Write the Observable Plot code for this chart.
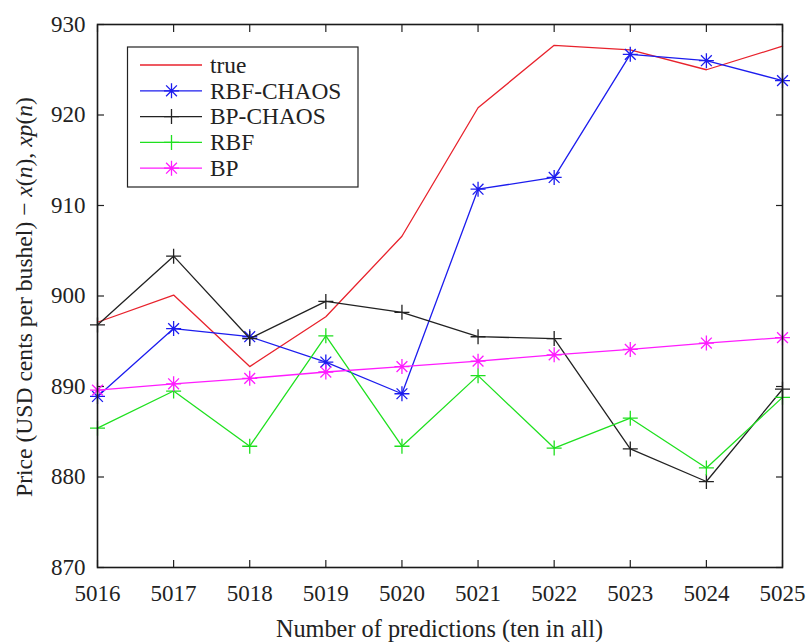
<!DOCTYPE html>
<html>
<head>
<meta charset="utf-8">
<script src="https://cdn.jsdelivr.net/npm/d3@7"></script>
<script src="https://cdn.jsdelivr.net/npm/@observablehq/plot@0.6"></script>
<style>
  html, body { margin: 0; padding: 0; background: white; }
  #chart { width: 806px; height: 642px; }
</style>
</head>
<body>
<div id="chart"></div>
<script>
// ---- data ----
const predictions = [5016, 5017, 5018, 5019, 5020, 5021, 5022, 5023, 5024, 5025];
const trueValues = [897.1, 900.1, 892.2, 897.7, 906.6, 920.8, 927.7, 927.2, 925.0, 927.6];
const rbfChaos   = [888.9, 896.4, 895.5, 892.7, 889.2, 911.8, 913.1, 926.7, 926.0, 923.8];
const bpChaos    = [896.8, 904.4, 895.3, 899.4, 898.2, 895.5, 895.3, 883.1, 879.5, 889.7];
const rbf        = [885.4, 889.5, 883.4, 895.6, 883.4, 891.2, 883.2, 886.5, 881.0, 888.8];
const bp         = [889.6, 890.3, 890.9, 891.6, 892.2, 892.8, 893.5, 894.1, 894.8, 895.4];
const seriesNames = ["true", "RBF-CHAOS", "BP-CHAOS", "RBF", "BP"];
const seriesValues = [trueValues, rbfChaos, bpChaos, rbf, bp];
const seriesMarkers = [null, "star", "plus", "plus", "star"];
const seriesColors = ["#e8222c", "#1c1cee", "#222222", "#1fe01f", "#ff1cff"];
const yTicks = [870, 880, 890, 900, 910, 920, 930];
const xLabel = "Number of predictions (ten in all)";

// ---- symbols ----
const plusSym = {draw(ctx, size) {
  const r = Math.sqrt(size / Math.PI);
  ctx.moveTo(-r, 0); ctx.lineTo(r, 0);
  ctx.moveTo(0, -r); ctx.lineTo(0, r);
}};
const starSym = {draw(ctx, size) {
  const r = Math.sqrt(size / Math.PI), d = r * 0.72;
  ctx.moveTo(-r, 0); ctx.lineTo(r, 0);
  ctx.moveTo(0, -r); ctx.lineTo(0, r);
  ctx.moveTo(-d, -d); ctx.lineTo(d, d);
  ctx.moveTo(-d, d); ctx.lineTo(d, -d);
}};
const symbolOf = {star: starSym, plus: plusSym};
const R = 7.5;

const rows = [];
seriesNames.forEach((name, i) => {
  seriesValues[i].forEach((v, j) => rows.push({series: name, x: predictions[j], y: v}));
});

const marks = [];
seriesNames.forEach((name, i) => {
  const data = rows.filter(d => d.series === name);
  marks.push(Plot.line(data, {x: "x", y: "y", stroke: seriesColors[i], strokeWidth: 1.3}));
  if (seriesMarkers[i]) {
    marks.push(Plot.dot(data, {x: "x", y: "y", symbol: symbolOf[seriesMarkers[i]], r: R,
      fill: "none", stroke: seriesColors[i], strokeWidth: 1.3}));
  }
});

const chart = Plot.plot({
  width: 806,
  height: 642,
  marginLeft: 97,
  marginRight: 24,
  marginTop: 24,
  marginBottom: 75,
  style: {fontFamily: "Liberation Serif", fontSize: "23px", background: "white", color: "#222"},
  x: {domain: [5016, 5025], ticks: predictions, tickFormat: d => String(d)},
  y: {domain: [870, 930], ticks: yTicks},
  marks: [
    Plot.axisX(predictions, {anchor: "bottom", tickSize: 0, tickPadding: 17, label: null, tickFormat: d => String(d)}),
    Plot.axisX(predictions, {anchor: "bottom", tickSize: -7, fill: "none", label: null, strokeWidth: 1.2}),
    Plot.axisX(predictions, {anchor: "top", tickSize: -7, fill: "none", label: null, strokeWidth: 1.2}),
    Plot.axisY(yTicks, {anchor: "left", tickSize: 0, tickPadding: 12, label: null}),
    Plot.axisY(yTicks, {anchor: "left", tickSize: -7, fill: "none", label: null, strokeWidth: 1.2}),
    Plot.axisY(yTicks, {anchor: "right", tickSize: -7, fill: "none", label: null, strokeWidth: 1.2}),
    ...marks,
    Plot.frame({stroke: "#1a1a1a", strokeWidth: 1.6})
  ]
});
document.getElementById("chart").appendChild(chart);

// ---- titles & legend ----
const svg = d3.select(chart);
svg.append("text")
  .attr("x", (97 + 782) / 2).attr("y", 637)
  .attr("text-anchor", "middle")
  .attr("font-size", 24.3)
  .attr("fill", "#222")
  .text(xLabel);

const yt = svg.append("text")
  .attr("transform", "translate(32,297) rotate(-90)")
  .attr("text-anchor", "middle")
  .attr("font-size", 23.6)
  .attr("fill", "#222");
yt.append("tspan").text("Price (USD cents per bushel) \u2212 ");
yt.append("tspan").attr("font-style", "italic").text("x");
yt.append("tspan").text("(");
yt.append("tspan").attr("font-style", "italic").text("n");
yt.append("tspan").text("), ");
yt.append("tspan").attr("font-style", "italic").text("xp");
yt.append("tspan").text("(");
yt.append("tspan").attr("font-style", "italic").text("n");
yt.append("tspan").text(")");

const lg = svg.append("g").attr("text-anchor", "start");
lg.append("rect").attr("x", 127.5).attr("y", 47).attr("width", 230.5).attr("height", 140)
  .attr("fill", "white").attr("stroke", "#222").attr("stroke-width", 1.2);
seriesNames.forEach((name, i) => {
  const yy = 65 + i * 25.8;
  lg.append("line").attr("x1", 140).attr("x2", 202).attr("y1", yy).attr("y2", yy)
    .attr("stroke", seriesColors[i]).attr("stroke-width", 1.3);
  if (seriesMarkers[i]) {
    lg.append("path")
      .attr("d", d3.symbol(symbolOf[seriesMarkers[i]], Math.PI * R * R)())
      .attr("transform", `translate(171.5,${yy})`)
      .attr("fill", "none").attr("stroke", seriesColors[i]).attr("stroke-width", 1.3);
  }
  lg.append("text").attr("x", 210).attr("y", yy).attr("dy", "0.33em")
    .attr("text-anchor", "start")
    .attr("font-size", 23.4)
    .attr("fill", "#222").text(name);
});
</script>
</body>
</html>
